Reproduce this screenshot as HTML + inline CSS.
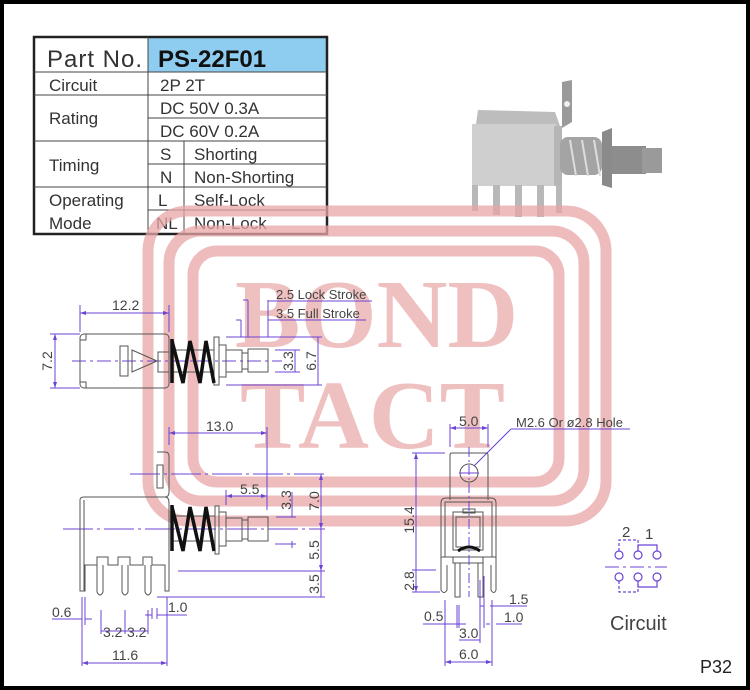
<!DOCTYPE html>
<html><head><meta charset="utf-8"><style>
html,body{margin:0;padding:0;background:#fff;}
svg{display:block;}
text{font-family:"Liberation Sans",sans-serif;}
</style></head><body>
<svg width="750" height="690" viewBox="0 0 750 690" xmlns="http://www.w3.org/2000/svg">
<rect x="0" y="0" width="750" height="690" fill="#fff"/>
<rect x="2" y="2" width="746" height="686" fill="none" stroke="#000" stroke-width="4"/>

<!-- table -->
<rect x="148" y="38" width="178" height="34" fill="#8fcdf0"/>
<g stroke="#444" stroke-width="1" fill="none">
<rect x="34" y="37" width="293" height="197" stroke-width="2.5" stroke="#222"/>
<line x1="34" y1="72" x2="327" y2="72"/>
<line x1="34" y1="95" x2="327" y2="95"/>
<line x1="148" y1="118" x2="327" y2="118"/>
<line x1="34" y1="141" x2="327" y2="141"/>
<line x1="148" y1="164" x2="327" y2="164"/>
<line x1="34" y1="187" x2="327" y2="187"/>
<line x1="148" y1="210" x2="327" y2="210"/>
<line x1="148" y1="37" x2="148" y2="234"/>
<line x1="184" y1="141" x2="184" y2="234"/>
</g>
<g fill="#333" font-size="17">
<text x="47" y="67" font-size="24" letter-spacing="1">Part No.</text>
<text x="158" y="67" font-size="24" font-weight="bold" fill="#111">PS-22F01</text>
<text x="49" y="91">Circuit</text>
<text x="160" y="91">2P 2T</text>
<text x="49" y="124">Rating</text>
<text x="160" y="114">DC 50V 0.3A</text>
<text x="160" y="137">DC 60V 0.2A</text>
<text x="49" y="171">Timing</text>
<text x="160" y="160">S</text><text x="194" y="160">Shorting</text>
<text x="160" y="183">N</text><text x="194" y="183">Non-Shorting</text>
<text x="49" y="206">Operating</text>
<text x="49" y="229">Mode</text>
<text x="158" y="206">L</text><text x="194" y="206">Self-Lock</text>
<text x="156" y="229">NL</text><text x="194" y="229">Non-Lock</text>
</g>

<!-- photo -->
<g>
<polygon points="562,82 572,80 572,122 562,128" fill="#9a9a9a"/>
<circle cx="567" cy="104" r="3" fill="#eee"/>
<polygon points="478,110 555,112 560,126 476,124" fill="#bdbdbd"/>
<rect x="472" y="124" width="84" height="62" fill="#cfcfcf"/>
<rect x="554" y="126" width="8" height="60" fill="#b5b5b5"/>
<rect x="560" y="137" width="42" height="38" rx="8" fill="#a4a4a4"/>
<path d="M570 140 l6 36 M582 140 l6 36 M594 140 l6 36" stroke="#ddd" stroke-width="2"/>
<polygon points="602,132 612,128 612,188 602,185" fill="#8a8a8a"/>
<rect x="612" y="146" width="34" height="28" fill="#8d8d8d"/>
<rect x="642" y="148" width="20" height="25" fill="#9a9a9a"/>
<g fill="#b8b8b8"><rect x="472" y="185" width="6" height="26"/><rect x="493" y="185" width="7" height="30"/><rect x="515" y="185" width="7" height="32"/><rect x="537" y="185" width="7" height="32"/><rect x="556" y="185" width="6" height="28"/></g>
</g>

<!-- watermark -->
<g fill="none" stroke="#e8a5a5" stroke-opacity="0.75" stroke-width="11">
<rect x="148" y="211" width="458" height="310" rx="40"/>
<rect x="169" y="231" width="415" height="270" rx="32"/>
<rect x="193" y="251" width="366" height="231" rx="24"/>
</g>
<g fill="#e8a5a5" fill-opacity="0.7" font-family="'Liberation Serif',serif" font-weight="bold" font-size="98">
<text x="235" y="347" style="font-family:'Liberation Serif',serif">BOND</text>
<text x="240" y="448" style="font-family:'Liberation Serif',serif">TACT</text>
</g>

<!-- purple dims -->
<g stroke="#6b44d6" stroke-width="1" fill="none">
<!-- top view -->
<line x1="80" y1="313" x2="169" y2="313"/><line x1="80" y1="305" x2="80" y2="332"/><line x1="169" y1="305" x2="169" y2="332"/>
<line x1="55" y1="334" x2="55" y2="388"/><line x1="50" y1="334" x2="80" y2="334"/><line x1="50" y1="388" x2="80" y2="388"/>
<line x1="72" y1="361" x2="282" y2="361" stroke-dasharray="14,4,3,4"/>
<line x1="295" y1="350" x2="295" y2="372"/><line x1="275" y1="350" x2="300" y2="350"/><line x1="275" y1="372" x2="300" y2="372"/>
<line x1="318" y1="337" x2="318" y2="385"/><line x1="226" y1="337" x2="322" y2="337"/><line x1="226" y1="385" x2="322" y2="385"/>
<line x1="241" y1="320" x2="241" y2="337"/><line x1="248" y1="300" x2="248" y2="337"/><line x1="268" y1="300" x2="268" y2="337"/>
<line x1="236" y1="320" x2="241" y2="320"/><line x1="243" y1="300" x2="248" y2="300"/>
<line x1="268" y1="301" x2="372" y2="301"/><line x1="268" y1="320" x2="366" y2="320"/>
<!-- side view -->
<line x1="169" y1="433" x2="267" y2="433"/><line x1="169" y1="427" x2="169" y2="445"/><line x1="267" y1="427" x2="267" y2="510"/>
<line x1="130" y1="474" x2="325" y2="474" stroke-dasharray="30,4,3,4"/>
<line x1="226" y1="496" x2="267" y2="496"/><line x1="226" y1="490" x2="226" y2="505"/>
<line x1="292" y1="492" x2="292" y2="517"/><line x1="276" y1="517" x2="296" y2="517"/>
<line x1="321" y1="474" x2="321" y2="597"/>
<line x1="63" y1="529" x2="325" y2="529" stroke-dasharray="30,4,3,4"/>
<line x1="275" y1="544" x2="296" y2="544"/><line x1="292" y1="541" x2="292" y2="548"/>
<line x1="178" y1="571" x2="325" y2="571"/><line x1="157" y1="597" x2="325" y2="597"/>
<line x1="82" y1="597" x2="82" y2="666"/><line x1="85" y1="597" x2="85" y2="625"/>
<line x1="52" y1="619" x2="82" y2="619"/><line x1="85" y1="619" x2="92" y2="619"/>
<line x1="101" y1="610" x2="101" y2="634"/><line x1="125" y1="610" x2="125" y2="634"/><line x1="148" y1="610" x2="148" y2="634"/>
<line x1="101" y1="631" x2="148" y2="631"/>
<line x1="145" y1="615" x2="152" y2="615"/><line x1="152" y1="608" x2="152" y2="619"/><line x1="157" y1="608" x2="157" y2="619"/><line x1="167" y1="597" x2="167" y2="666"/>
<line x1="157" y1="615" x2="187" y2="615"/>
<line x1="82" y1="663" x2="167" y2="663"/>
<!-- front view -->
<line x1="450" y1="428" x2="488" y2="428"/><line x1="450" y1="424" x2="450" y2="447"/><line x1="488" y1="424" x2="488" y2="447"/>
<line x1="511" y1="429" x2="630" y2="429"/><line x1="511" y1="429" x2="474" y2="466"/>
<line x1="416" y1="453" x2="416" y2="592"/><line x1="412" y1="453" x2="445" y2="453"/><line x1="412" y1="570" x2="436" y2="570"/><line x1="412" y1="592" x2="440" y2="592"/>
<line x1="457" y1="605" x2="457" y2="628"/><line x1="459" y1="605" x2="459" y2="628"/>
<line x1="423" y1="624" x2="466" y2="624"/>
<line x1="459" y1="640" x2="480" y2="640"/><line x1="480" y1="580" x2="480" y2="643"/>
<line x1="445" y1="600" x2="445" y2="666"/><line x1="492" y1="600" x2="492" y2="666"/><line x1="445" y1="662" x2="492" y2="662"/>
<line x1="484" y1="576" x2="484" y2="628"/><line x1="490" y1="606" x2="527" y2="606"/><line x1="480" y1="606" x2="484" y2="606"/>
<line x1="496" y1="624" x2="522" y2="624"/><line x1="486" y1="624" x2="490" y2="624"/>
<!-- circuit -->
<line x1="605" y1="567" x2="667" y2="567" stroke-dasharray="14,4,3,4"/>
<g stroke-width="1.2">
<circle cx="619" cy="555" r="4"/><circle cx="638" cy="555" r="4"/><circle cx="657" cy="555" r="4"/>
<circle cx="619" cy="577" r="4"/><circle cx="638" cy="577" r="4"/><circle cx="657" cy="577" r="4"/>
<path d="M619 551 V540 H638 V551" stroke-dasharray="3,2"/>
<path d="M638 551 V545 H657 V551"/>
<path d="M619 581 V592 H638 V581" stroke-dasharray="3,2"/>
<path d="M638 581 V587 H657 V581"/>
</g>
</g>
<g fill="#6b44d6">
<polygon points="80,313 86,311 86,315"/><polygon points="169,313 163,311 163,315"/>
<polygon points="55,334 53,340 57,340"/><polygon points="55,388 53,382 57,382"/>
<polygon points="169,433 175,431 175,435"/><polygon points="267,433 261,431 261,435"/>
<polygon points="226,496 232,494 232,498"/><polygon points="267,496 261,494 261,498"/>
<polygon points="82,663 88,661 88,665"/><polygon points="167,663 161,661 161,665"/>
<polygon points="445,662 451,660 451,664"/><polygon points="492,662 486,660 486,664"/>
<polygon points="450,428 456,426 456,430"/><polygon points="488,428 482,426 482,430"/>
<polygon points="416,453 414,459 418,459"/><polygon points="416,592 414,586 418,586"/>
<polygon points="321,474 319,480 323,480"/><polygon points="321,529 319,523 323,523"/><polygon points="321,571 319,565 323,565"/>
</g>

<!-- drawing lines -->
<g stroke="#555" stroke-width="1" fill="none">
<rect x="80" y="334" width="89" height="54" rx="4"/>
<path d="M80 340 H86 V334 M80 382 H86 V388"/>
<rect x="120" y="346" width="8" height="30"/>
<polygon points="132,350 157,361 132,372"/>
<rect x="158" y="352" width="11" height="20"/>
<rect x="214" y="337" width="5" height="48"/>
<rect x="219" y="345" width="7" height="32"/>
<rect x="226" y="350" width="16" height="22"/>
<rect x="242" y="353" width="6" height="16"/>
<rect x="248" y="349" width="20" height="23"/>
<line x1="172" y1="350" x2="214" y2="350"/><line x1="172" y1="372" x2="214" y2="372"/>
<!-- side -->
<path d="M157 452 H165 Q169 452 169 456 V492 Q169 497 165 497"/>
<rect x="157" y="465" width="6" height="23"/>
<path d="M84 497 H165 Q169 497 169 503 V591 H165 V565 H152 V557 H143 V565 H130 V557 H118 V565 H108 V557 H97 V565 H85 V591 H80 V500 Q80 497 84 497 Z"/>
<line x1="84" y1="500" x2="84" y2="591"/>
<path d="M97 565 V592 Q100 598 103 592 V565 M122 565 V592 Q125 598 128 592 V565 M145 565 V592 Q148 598 151 592 V565"/>
<rect x="215" y="506" width="4" height="48"/>
<rect x="219" y="512" width="7" height="34"/>
<rect x="226" y="518" width="16" height="23"/>
<rect x="242" y="520" width="6" height="19"/>
<rect x="248" y="517" width="20" height="24"/>
<line x1="172" y1="516" x2="215" y2="516"/><line x1="172" y1="541" x2="215" y2="541"/>
<!-- front -->
<path d="M450 500 V455 Q450 453 452 453 H486 Q488 453 488 455 V500"/>
<circle cx="469" cy="473" r="9"/>
<path d="M441 557 V503 Q441 498 446 498 H491 Q496 498 496 503 V557 Z"/>
<rect x="445" y="502" width="47" height="55"/>
<rect x="453" y="512" width="30" height="38"/>
<rect x="456" y="517" width="24" height="30"/>
<rect x="463" y="509" width="12" height="4"/>
<rect x="453" y="557" width="30" height="6"/>
<path d="M441 557 V590 Q444 595 447 590 V565 M491 565 V590 Q494 595 496 590 V557"/>
<path d="M455 563 V597 H460 V563 M478 563 V597 H483 V563"/>
<line x1="469" y1="447" x2="469" y2="597" stroke="#6b44d6" stroke-dasharray="10,3,2,3"/>
<line x1="459" y1="473" x2="479" y2="473" stroke="#6b44d6"/>
</g>
<path d="M458 551 Q469 543 480 551" stroke="#111" stroke-width="3" fill="none"/>
<!-- springs -->
<g stroke="#111" stroke-width="3.5" fill="none">
<line x1="172" y1="339" x2="172" y2="383"/>
<path d="M172 341 L183 383 L190 341 L200 383 L206 341 L214 383"/>
<line x1="172" y1="505" x2="172" y2="551"/>
<path d="M172 507 L183 551 L190 507 L200 551 L206 507 L214 551"/>
</g>

<!-- dim text -->
<g fill="#444" font-size="14">
<text x="112" y="310">12.2</text>
<text transform="translate(52,361) rotate(-90)" text-anchor="middle">7.2</text>
<text transform="translate(293,361) rotate(-90)" text-anchor="middle">3.3</text>
<text transform="translate(316,361) rotate(-90)" text-anchor="middle">6.7</text>
<text x="276" y="299" font-size="13">2.5 Lock Stroke</text>
<text x="276" y="318" font-size="13">3.5 Full Stroke</text>
<text x="206" y="431">13.0</text>
<text x="240" y="494">5.5</text>
<text transform="translate(291,500) rotate(-90)" text-anchor="middle">3.3</text>
<text transform="translate(319,501) rotate(-90)" text-anchor="middle">7.0</text>
<text transform="translate(319,550) rotate(-90)" text-anchor="middle">5.5</text>
<text transform="translate(319,584) rotate(-90)" text-anchor="middle">3.5</text>
<text x="52" y="617">0.6</text>
<text x="168" y="612">1.0</text>
<text x="103" y="637">3.2</text>
<text x="127" y="637">3.2</text>
<text x="112" y="660">11.6</text>
<text x="459" y="426">5.0</text>
<text x="516" y="427" font-size="13">M2.6 Or ø2.8 Hole</text>
<text transform="translate(414,520) rotate(-90)" text-anchor="middle">15.4</text>
<text transform="translate(414,581) rotate(-90)" text-anchor="middle">2.8</text>
<text x="424" y="621">0.5</text>
<text x="459" y="638">3.0</text>
<text x="459" y="659">6.0</text>
<text x="509" y="604">1.5</text>
<text x="504" y="622">1.0</text>
<text x="622" y="537" font-size="15">2</text>
<text x="645" y="539" font-size="15">1</text>
<text x="610" y="630" font-size="20">Circuit</text>
<text x="700" y="673" font-size="18" fill="#222">P32</text>
</g>
</svg>
</body></html>
